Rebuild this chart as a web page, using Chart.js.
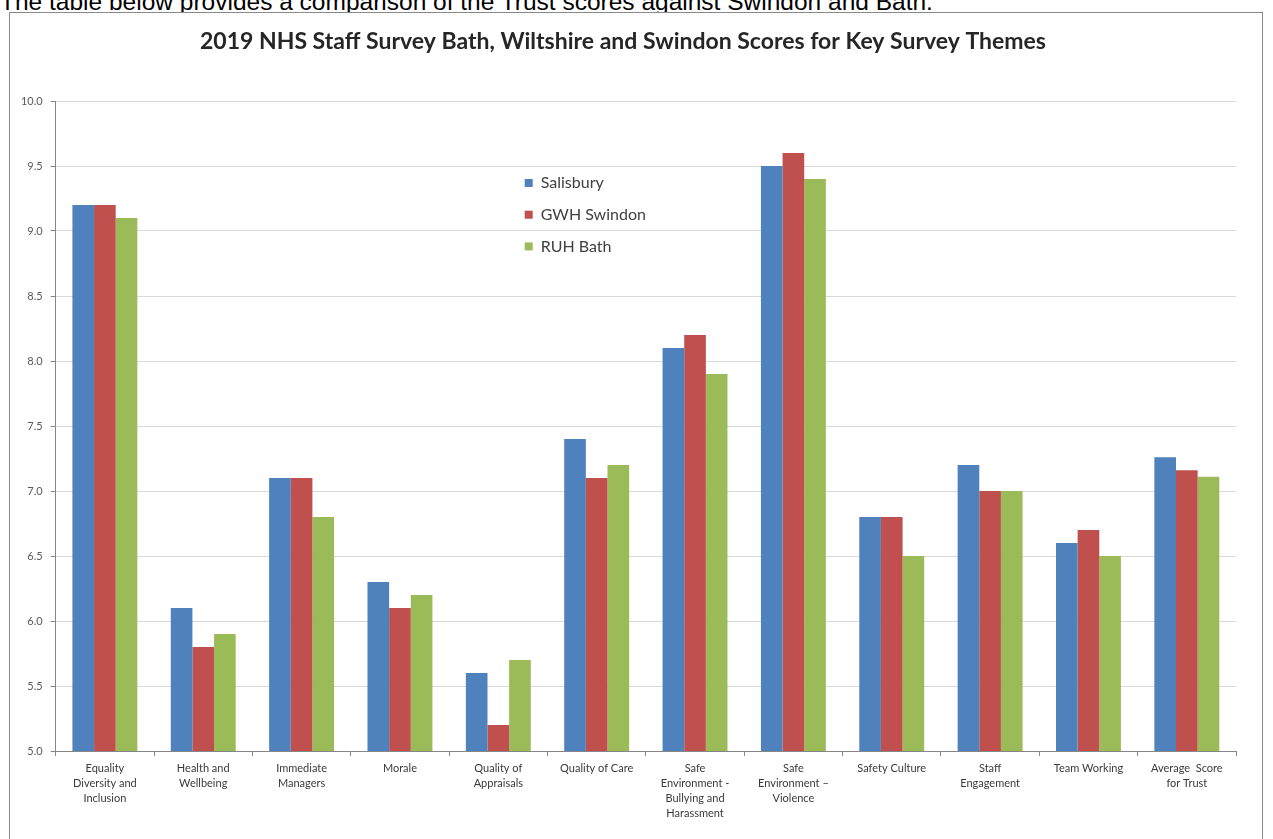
<!DOCTYPE html>
<html>
<head>
<meta charset="utf-8">
<script src="https://cdn.jsdelivr.net/npm/chart.js@4.4.0/dist/chart.umd.min.js"></script>
<style>
  body { margin: 0; background: #fff; overflow: hidden; }
  #intro {
    position: absolute; left: 0; top: -12px;
    font-family: "Liberation Sans", Arial, sans-serif; font-size: 24.5px; color: #000;
    white-space: nowrap;
  }
  #box {
    position: absolute; left: 9px; top: 12px; width: 1252px; height: 840px;
    border: 1px solid #8a8a8a; background: #fff;
  }
</style>
</head>
<body>
<div id="intro">The table below provides a comparison of the Trust scores against Swindon and Bath.</div>
<div id="box"><canvas id="myChart" width="1252" height="826"></canvas></div>
<script>
// categorias do eixo x
const temas = [
  ["Equality", "Diversity and", "Inclusion"],
  ["Health and", "Wellbeing"],
  ["Immediate", "Managers"],
  "Morale",
  ["Quality of", "Appraisals"],
  "Quality of Care",
  ["Safe", "Environment -", "Bullying and", "Harassment"],
  ["Safe", "Environment \u2013", "Violence"],
  "Safety Culture",
  ["Staff", "Engagement"],
  "Team Working",
  ["Average  Score", "for Trust"]
];

const salisbury = [9.2, 6.1, 7.1, 6.3, 5.6, 7.4, 8.1, 9.5, 6.8, 7.2, 6.6, 7.26];
const gwhSwindon = [9.2, 5.8, 7.1, 6.1, 5.2, 7.1, 8.2, 9.6, 6.8, 7.0, 6.7, 7.16];
const ruhBath = [9.1, 5.9, 6.8, 6.2, 5.7, 7.2, 7.9, 9.4, 6.5, 7.0, 6.5, 7.11];

const yMin = 5.0;
const yMax = 10.0;
const yStep = 0.5;

// legenda desenhada dentro da area do grafico
const legendaInterna = {
  id: "legendaInterna",
  afterDraw(chart) {
    const ctx = chart.ctx;
    const area = chart.chartArea;
    const x0 = area.left + 469;
    let y = area.top + 82;
    ctx.save();
    ctx.font = "16px Lato, sans-serif";
    ctx.textBaseline = "middle";
    chart.data.datasets.forEach(ds => {
      ctx.fillStyle = ds.backgroundColor;
      ctx.fillRect(x0, y - 4, 8, 8);
      ctx.fillStyle = "#404040";
      ctx.fillText(ds.label, x0 + 16, y);
      y += 31.7;
    });
    ctx.restore();
  }
};

let ctx2 = document.getElementById("myChart").getContext("2d");
let myChart = new Chart(ctx2, {
  type: "bar",
  data: {
    labels: temas,
    datasets: [
      { label: "Salisbury", data: salisbury, backgroundColor: "#4F81BD" },
      { label: "GWH Swindon", data: gwhSwindon, backgroundColor: "#C0504D" },
      { label: "RUH Bath", data: ruhBath, backgroundColor: "#9BBB59" }
    ]
  },
  options: {
    responsive: false,
    animation: false,
    devicePixelRatio: 1,
    layout: { padding: { left: 0, right: 26, top: 0, bottom: 0 } },
    datasets: {
      bar: { barPercentage: 1.0, categoryPercentage: 0.66, borderWidth: 0 }
    },
    plugins: {
      legend: { display: false },
      tooltip: { enabled: false },
      title: {
        display: true,
        text: "2019 NHS Staff Survey Bath, Wiltshire and Swindon Scores for Key Survey Themes",
        color: "#262626",
        font: { family: "Lato, sans-serif", size: 23, weight: "bold", lineHeight: 1.2 },
        padding: { top: 14.9, bottom: 45.5 }
      }
    },
    scales: {
      x: {
        grid: { drawOnChartArea: false, drawTicks: true, tickLength: 5, offset: true, color: "#868686" },
        border: { color: "#868686" },
        ticks: {
          maxRotation: 0, minRotation: 0, autoSkip: false, padding: 5,
          color: "#3a3a3a",
          font: { family: "Lato, sans-serif", size: 11, lineHeight: 1.35 }
        },
        afterFit(scale) { scale.height = 88; }
      },
      y: {
        min: yMin,
        max: yMax,
        grid: { color: "#d9d9d9", tickLength: 5, tickColor: "#868686" },
        border: { color: "#868686" },
        ticks: {
          stepSize: yStep, padding: 8, color: "#595959",
          font: { family: "Lato, sans-serif", size: 11 },
          callback: v => v.toFixed(1)
        },
        afterFit(scale) { scale.width = 45.7; }
      }
    }
  },
  plugins: [legendaInterna]
});
</script>
</body>
</html>
